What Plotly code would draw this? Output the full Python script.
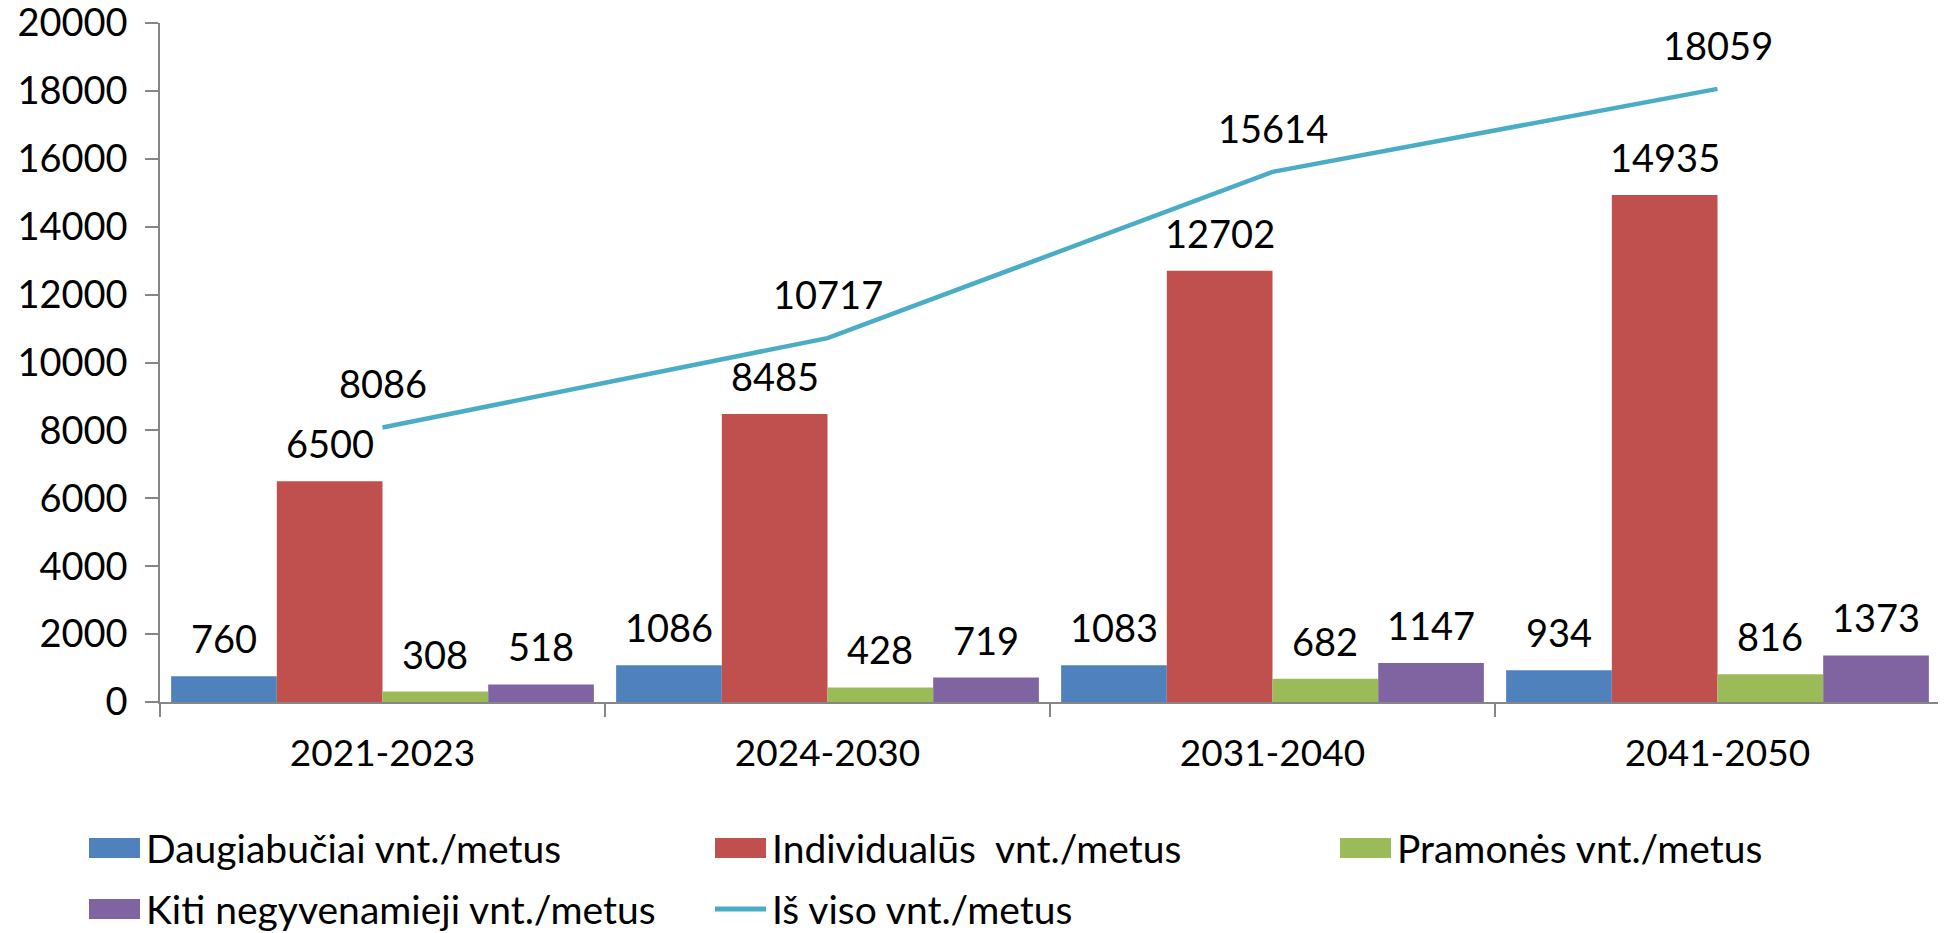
import plotly.graph_objects as go

# Data
periods = ["2021-2023", "2024-2030", "2031-2040", "2041-2050"]
daugiabuciai = [760, 1086, 1083, 934]
individualus = [6500, 8485, 12702, 14935]
pramones = [308, 428, 682, 816]
kiti = [518, 719, 1147, 1373]
is_viso = [8086, 10717, 15614, 18059]

bar_names = ["Daugiabučiai vnt./metus", "Individualūs  vnt./metus",
             "Pramonės vnt./metus", "Kiti negyvenamieji vnt./metus"]
line_name = "Iš viso vnt./metus"
bar_colors = ["#4f81bd", "#c0504d", "#9bbb59", "#8064a2"]
line_color = "#4bacc6"

FONT = "Lato, 'Open Sans', sans-serif"
# page body has an 8px margin, so the figure starts at (8, 8) in the window
W, H = 1938, 925
M_L, M_R, M_T, M_B = 152, 6, 15, 231
BARGAP = 0.05

fig = go.Figure()

bar_series = [daugiabuciai, individualus, pramones, kiti]
for name, vals, col in zip(bar_names, bar_series, bar_colors):
    fig.add_trace(go.Bar(x=periods, y=vals, name=name, marker_color=col,
                         marker_line_width=0, showlegend=False))

fig.add_trace(go.Scatter(x=periods, y=is_viso, name=line_name, mode="lines",
                         line=dict(color=line_color, width=4.5), showlegend=False))

# value labels above bars
n = len(bar_series)
bw = (1 - BARGAP) / n
for j, vals in enumerate(bar_series):
    for i, v in enumerate(vals):
        fig.add_annotation(x=i - (1 - BARGAP) / 2 + (j + 0.5) * bw, y=v, text=str(v),
                           showarrow=False, yanchor="bottom", yshift=13,
                           font=dict(family=FONT, size=38, color="black"))

# value labels above line points
for i, v in enumerate(is_viso):
    fig.add_annotation(x=i, y=v, text=str(v), showarrow=False, yanchor="bottom",
                       yshift=19, font=dict(family=FONT, size=38, color="black"))

# legend drawn by hand (large swatches as in the original)
pw = W - M_L - M_R
ph = H - M_T - M_B


def px_x(px):
    return (px - M_L) / pw


def px_y(py):
    return (H - M_B - py) / ph


legend_items = [(nm, "bar", c) for nm, c in zip(bar_names, bar_colors)] + [(line_name, "line", line_color)]
col_x = [81, 707, 1332]
row_y = [840, 901]
for k, (nm, kind, col) in enumerate(legend_items):
    x0 = col_x[k % 3]
    yc = row_y[k // 3]
    if kind == "bar":
        fig.add_shape(type="rect", xref="paper", yref="paper",
                      x0=px_x(x0), x1=px_x(x0 + 51), y0=px_y(yc + 10), y1=px_y(yc - 10),
                      fillcolor=col, line_width=0)
    else:
        fig.add_shape(type="line", xref="paper", yref="paper",
                      x0=px_x(x0), x1=px_x(x0 + 51), y0=px_y(yc), y1=px_y(yc),
                      line=dict(color=col, width=5))
    fig.add_annotation(xref="paper", yref="paper", x=px_x(x0 + 55), y=px_y(yc),
                       text=nm, showarrow=False, xanchor="left", yanchor="middle",
                       font=dict(family=FONT, size=39, color="black"))

axis_col = "#868686"
fig.update_layout(
    width=W, height=H,
    margin=dict(l=M_L, r=M_R, t=M_T, b=M_B, autoexpand=False),
    barmode="group", bargap=BARGAP, bargroupgap=0,
    plot_bgcolor="white", paper_bgcolor="white",
    font=dict(family=FONT, size=36, color="black"),
    xaxis=dict(type="category", range=[-0.5, 3.5], showline=True, linecolor=axis_col,
               linewidth=1.5, ticks="outside", tickson="boundaries", ticklen=13,
               tickcolor=axis_col, tickwidth=1.5, showgrid=False, automargin=False,
               tickfont=dict(family=FONT, size=37), ticklabelstandoff=18),
    yaxis=dict(range=[0, 20000], tickmode="linear", tick0=0, dtick=2000, tickformat="d",
               showline=True, linecolor=axis_col, automargin=False,
               linewidth=1.5, ticks="outside", ticklen=13, tickcolor=axis_col,
               tickwidth=1.5, showgrid=False, zeroline=False,
               tickfont=dict(family=FONT, size=38), ticklabelstandoff=10,
               ticklabeloverflow="allow"),
)

fig.write_html("out.html")
